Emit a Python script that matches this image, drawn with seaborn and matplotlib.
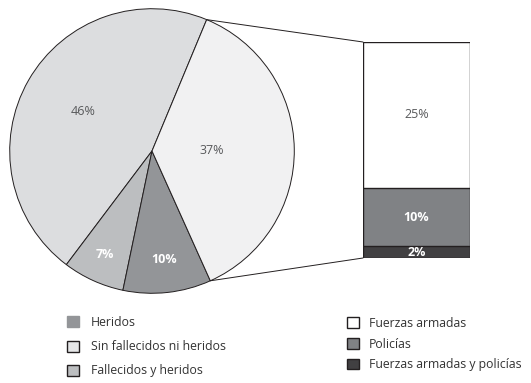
import numpy as np
import matplotlib
matplotlib.use("Agg")
import matplotlib.pyplot as plt
from matplotlib.patches import Patch, ConnectionPatch
import seaborn as sns

# pie data (counterclockwise from the split edge)
pie_labels = ["Sin fallecidos ni heridos", "Fallecidos y heridos", "Heridos", "Fallecidos"]
pie_values = [46, 7, 10, 37]
pie_colors = ["#dcdddf", "#bcbec0", "#939598", "#f1f1f2"]

# breakdown of the 37% slice (bottom to top)
bar_labels = ["Fuerzas armadas y policías", "Policías", "Fuerzas armadas"]
bar_values = [2, 10, 25]
bar_colors = ["#414042", "#808285", "#ffffff"]

sns.set_theme(style="white")
plt.rcParams["font.family"] = ["Open Sans", "DejaVu Sans"]

edge = "#231f20"
grey_txt = "#58595b"

fig = plt.figure(figsize=(5.31, 3.83), dpi=100)

# ---- pie
ax = fig.add_axes([9 / 531, 89 / 383, 286 / 531, 286 / 383])
wedges, _ = ax.pie(pie_values, colors=pie_colors, startangle=67.4, radius=1,
                   wedgeprops=dict(edgecolor=edge, linewidth=0.7))
ax.set_xlim(-1.005, 1.005)
ax.set_ylim(-1.005, 1.005)
ax.set_aspect("equal")
ax.axis("off")

label_r = [0.56, 0.80, 0.77, 0.42]
label_style = [(grey_txt, "normal"), ("white", "bold"), ("white", "bold"), (grey_txt, "normal")]
for w, v, r, (c, fw) in zip(wedges, pie_values, label_r, label_style):
    mid = np.deg2rad((w.theta1 + w.theta2) / 2)
    ax.text(r * np.cos(mid), r * np.sin(mid), f"{v}%", ha="center", va="center",
            color=c, fontweight=fw, fontsize=9)

# ---- stacked bar (cumulative bars drawn largest first)
bax = fig.add_axes([363 / 531, 125 / 383, 107 / 531, 216 / 383])
cum = np.cumsum(bar_values)
for top, col in zip(cum[::-1], bar_colors[::-1]):
    sns.barplot(x=["b"], y=[top], color=col, saturation=1, width=1,
                edgecolor=edge, linewidth=1, ax=bax)
bax.set_xlim(-0.5, 0.5)
bax.set_ylim(0, cum[-1])
bax.axis("off")

bottoms = cum - np.array(bar_values)
bar_style = [("white", "bold"), ("white", "bold"), (grey_txt, "normal")]
for b, v, (c, fw) in zip(bottoms, bar_values, bar_style):
    bax.text(0, b + v / 2, f"{v}%", ha="center", va="center",
             color=c, fontweight=fw, fontsize=9)

# ---- connector lines
w = wedges[3]
for ang, yb in [(w.theta2, cum[-1]), (w.theta1, 0)]:
    a = np.deg2rad(ang)
    con = ConnectionPatch(xyA=(np.cos(a), np.sin(a)), coordsA=ax.transData,
                          xyB=(-0.5, yb), coordsB=bax.transData,
                          color=edge, linewidth=0.7)
    fig.add_artist(con)

# ---- legends
left_handles = [
    Patch(facecolor=pie_colors[2], edgecolor=pie_colors[2], label=pie_labels[2]),
    Patch(facecolor="#e6e7e8", edgecolor=edge, label=pie_labels[0]),
    Patch(facecolor=pie_colors[1], edgecolor=edge, label=pie_labels[1]),
]
right_handles = [Patch(facecolor=bar_colors[i], edgecolor=edge, label=bar_labels[i])
                 for i in [2, 1, 0]]

leg_kw = dict(frameon=False, fontsize=8.8, handlelength=1.0, handleheight=1.0,
              borderpad=0, borderaxespad=0, loc="upper left", labelcolor="#333333")
fig.legend(handles=left_handles, bbox_to_anchor=(67 / 531, 1 - 316 / 383),
           labelspacing=0.92, handletextpad=0.95, **leg_kw)
fig.legend(handles=right_handles, bbox_to_anchor=(347 / 531, 1 - 317 / 383),
           labelspacing=0.62, handletextpad=0.8, **leg_kw)

fig.savefig("out.png", dpi=100, facecolor="white")
